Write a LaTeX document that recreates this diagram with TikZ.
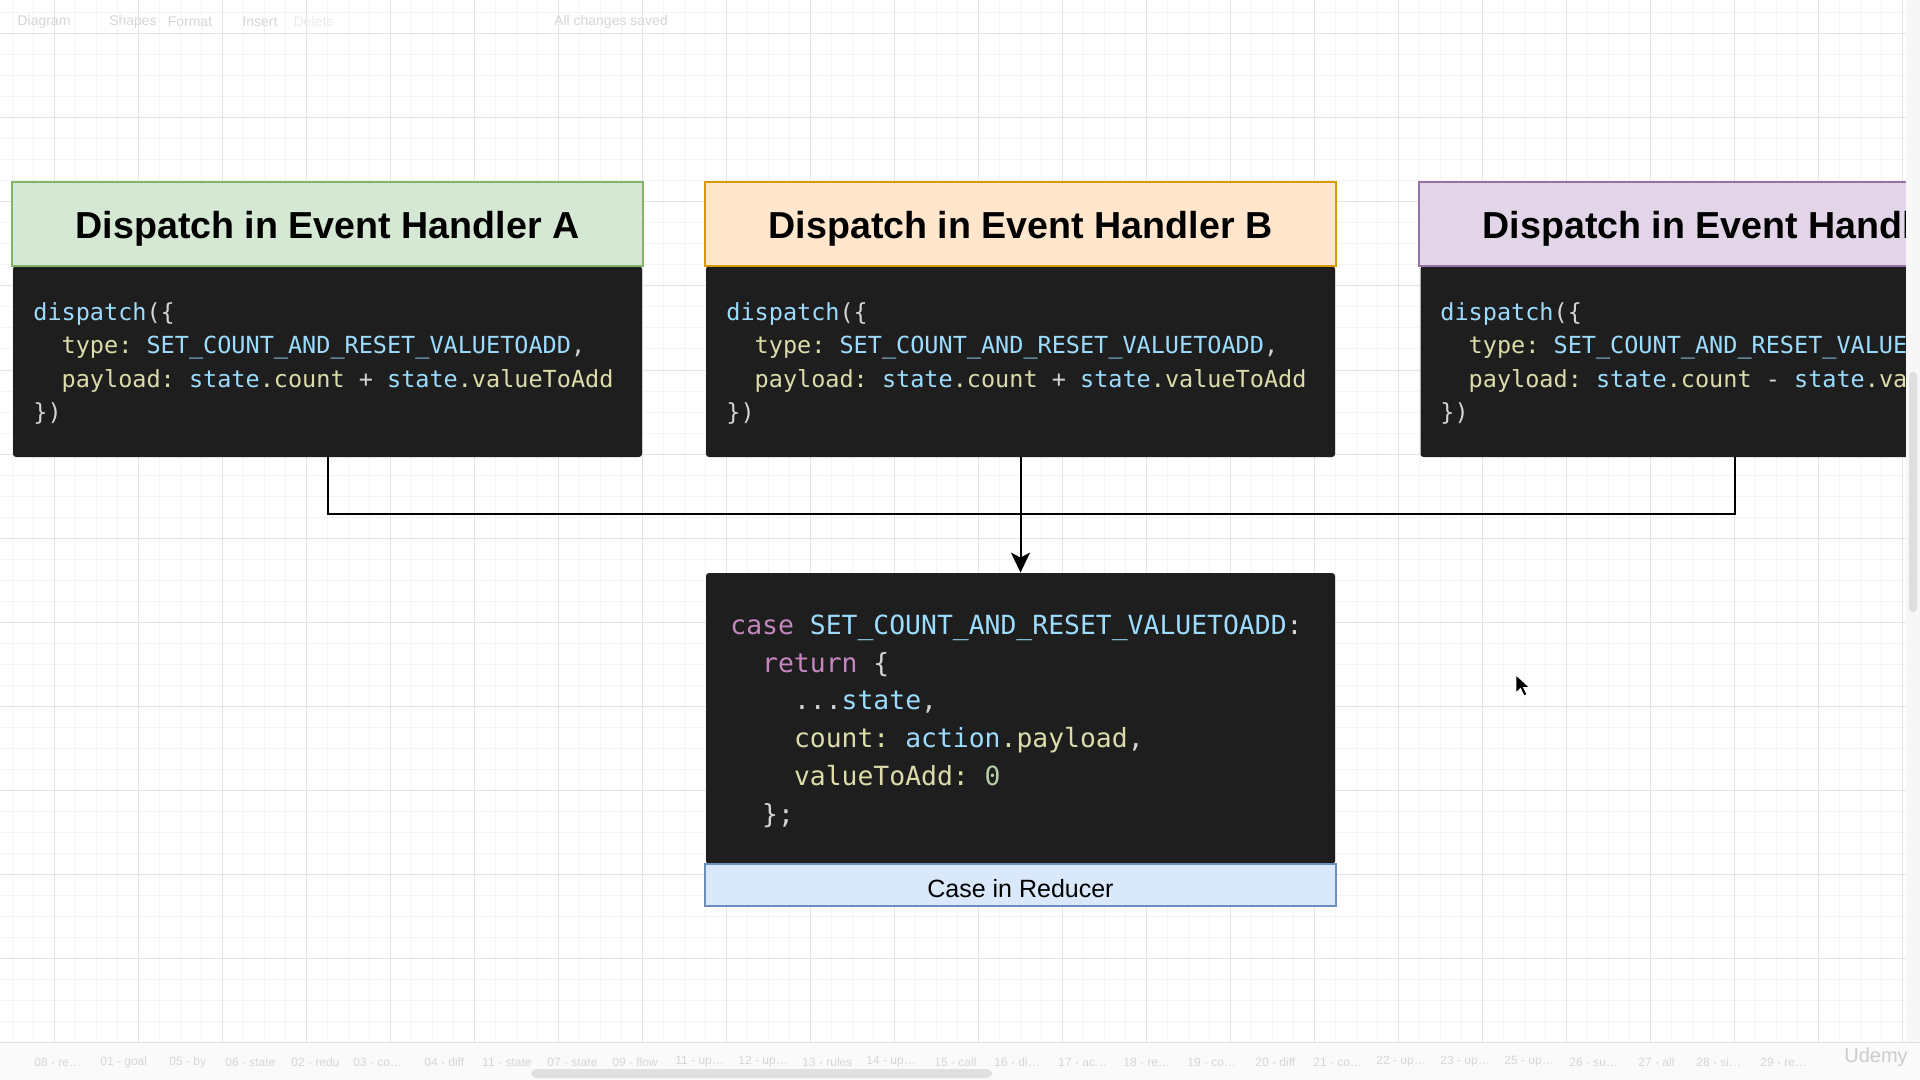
\documentclass[tikz,border=0pt]{standalone}
\usepackage{fontspec}
\usetikzlibrary{arrows.meta}

\newfontfamily\headfont{Liberation Sans}
\newfontfamily\codefont{DejaVu Sans Mono}
\frenchspacing

% Renkler
\definecolor{gridminor}{HTML}{F4F4F4}
\definecolor{gridmajor}{HTML}{E4E4E4}
\definecolor{codebg}{HTML}{1E1E1E}
\definecolor{cplain}{HTML}{D4D4D4}
\definecolor{cvar}{HTML}{9CDCFE}
\definecolor{cprop}{HTML}{DCDCAA}
\definecolor{ckey}{HTML}{C586C0}
\definecolor{cnum}{HTML}{B5CEA8}
\definecolor{greenfill}{HTML}{D5E8D4}
\definecolor{greenline}{HTML}{82B366}
\definecolor{orangefill}{HTML}{FFE6CC}
\definecolor{orangeline}{HTML}{D79B00}
\definecolor{purplefill}{HTML}{E1D5E7}
\definecolor{purpleline}{HTML}{9673A6}
\definecolor{bluefill}{HTML}{DAE8FC}
\definecolor{blueline}{HTML}{6C8EBF}
\definecolor{uitext}{HTML}{D6D6D6}

% Sozdizimi renkleri
\newcommand{\kw}[1]{\textcolor{ckey}{#1}}
\newcommand{\vr}[1]{\textcolor{cvar}{#1}}
\newcommand{\pr}[1]{\textcolor{cprop}{#1}}
\newcommand{\nm}[1]{\textcolor{cnum}{#1}}

\begin{document}
\begin{tikzpicture}[
        x=0.5pt, y=0.5pt,
        % Kutu Stilleri
        head/.style={draw, line width=1pt, minimum width=315.5pt, minimum height=42pt, inner sep=0pt, text height=14.8pt, text depth=0pt, font=\headfont\bfseries\fontsize{18.8}{22}\selectfont},
        codebox/.style={fill=codebg, minimum width=314.5pt, minimum height=95.5pt, inner sep=0pt, rounded corners=1.5pt},
        codeline/.style={anchor=base west, inner sep=0pt, text=cplain, font=\codefont\fontsize{11.75}{14}\selectfont},
        caseline/.style={codeline, font=\codefont\fontsize{13.2}{16}\selectfont},
        uilabel/.style={inner sep=0pt, text=uitext, font=\headfont\fontsize{7}{8}\selectfont},
        link/.style={line width=1pt, black},
        arrow/.style={link, -{Stealth[length=10pt, width=9.5pt, inset=2.5pt]}}
    ]
        \useasboundingbox (0,0) rectangle (1920,-1080);
        \fill[white] (0,0) rectangle (1920,-1080);

        % Izgara
        \foreach \x in {12.3,33.3,...,1920} \draw[gridminor, line width=0.5pt] (\x,0) -- (\x,-1080);
        \foreach \y in {13,34,...,1080} \draw[gridminor, line width=0.5pt] (0,-\y) -- (1920,-\y);
        \foreach \x in {54.3,138.3,...,1920} \draw[gridmajor, line width=0.5pt] (\x,0) -- (\x,-1080);
        \foreach \y in {34,118,...,1080} \draw[gridmajor, line width=0.5pt] (0,-\y) -- (1920,-\y);

        % Arac cubugu
        \node[uilabel] (tbDiagram) at (44,-22) {Diagram};
        \node[uilabel] (tbShapes) at (133,-22) {Shapes};
        \node[uilabel] (tbFormat) at (190,-22) {Format};
        \node[uilabel] (tbInsert) at (260,-22) {Insert};
        \node[uilabel, text=uitext!50] (tbDelete) at (314,-22) {Delete};
        \node[uilabel] (tbSaved) at (611,-22) {All changes saved};

        % Handler A
        \node[codebox] (codeA) at (327.5,-361.5) {};
        \node[head, fill=greenfill, draw=greenline] (headA) at (327.5,-224) {Dispatch in Event Handler A};
        % Handler B
        \node[codebox] (codeB) at (1020.5,-361.5) {};
        \node[head, fill=orangefill, draw=orangeline] (headB) at (1020.5,-224) {Dispatch in Event Handler B};
        % Handler C (ekranin kenarinda kesiliyor)
        \begin{scope}
            \clip (0,0) rectangle (1906,-1080);
            \node[codebox] (codeC) at (1735,-361.5) {};
            \node[head, fill=purplefill, draw=purpleline] (headC) at (1734.5,-224) {Dispatch in Event Handler C};
            \foreach \b/\x/\op in {A/33/+, B/726/+, C/1440/-} {
                \node[codeline] (code\b-1) at (\x,-321) {\vr{dispatch}(\{};
                \node[codeline] (code\b-2) at (\x+28.3,-354) {\pr{type:} \vr{SET\_COUNT\_AND\_RESET\_VALUETOADD},};
                \node[codeline] (code\b-3) at (\x+28.3,-387) {\pr{payload:} \vr{state}\pr{.count} \op{} \vr{state}\pr{.valueToAdd}};
                \node[codeline] (code\b-4) at (\x,-420) {\})};
            }
        \end{scope}

        % Reducer
        \node[codebox, minimum height=145.5pt] (caseCode) at (1020.5,-718.5) {};
        \node[caseline] (case-1) at (730,-634.5) {\kw{case} \vr{SET\_COUNT\_AND\_RESET\_VALUETOADD}:};
        \node[caseline] (case-2) at (761.8,-672.5) {\kw{return} \{};
        \node[caseline] (case-3) at (793.6,-709.5) {...\vr{state},};
        \node[caseline] (case-4) at (793.6,-747.5) {\pr{count:} \vr{action}\pr{.payload},};
        \node[caseline] (case-5) at (793.6,-785.5) {\pr{valueToAdd:} \nm{0}};
        \node[caseline] (case-6) at (761.8,-823.5) {\};};
        \node[draw=blueline, fill=bluefill, line width=1pt, minimum width=315.5pt, minimum height=21pt, inner sep=0pt,
              text height=12pt, text depth=0pt, font=\headfont\fontsize{12.5}{15}\selectfont] (caseLabel) at (1020.5,-885) {Case in Reducer};

        % Baglantilar
        \coordinate (join) at (1020.5,-514);
        \draw[link] (codeA.south) |- (join);
        \draw[link] (codeC.south) |- (join);
        \draw[arrow] (codeB.south) -- (caseCode.north);

        % Sag kenar ve kaydirma cubugu
        \fill[white!97!black] (1906,0) rectangle (1920,-1080);
        \fill[white!87!black, rounded corners=2pt] (1909,-372) rectangle (1917,-612);

        % Fare imleci
        \filldraw[fill=black, draw=white, line width=0.4pt] (1516,-675) -- (1516,-693) -- (1520.5,-688.5) -- (1524,-696) -- (1527,-694.5) -- (1523.5,-687.5) -- (1529.5,-687.5) -- cycle;

        % Alt sekme cubugu
        \fill[white!98!black] (0,-1042) rectangle (1920,-1080);
        \draw[white!88!black, line width=0.5pt] (0,-1042) -- (1920,-1042);
        \fill[white!88!black, rounded corners=3pt] (531,-1069) rectangle (992,-1078);
        \foreach \tx/\tl [count=\i] in {34/08 - re\ldots, 100/01 - goal, 169/05 - by, 225/06 - state, 291/02 - redu, 353/03 - co\ldots,
                424/04 - diff, 482/11 - state, 547/07 - state, 612/09 - flow, 675/11 - up\ldots, 738/12 - up\ldots, 802/13 - rules,
                866/14 - up\ldots, 934/15 - call, 994/16 - di\ldots, 1058/17 - ac\ldots, 1123/18 - re\ldots, 1187/19 - co\ldots,
                1255/20 - diff, 1313/21 - co\ldots, 1376/22 - up\ldots, 1440/23 - up\ldots, 1504/25 - up\ldots, 1569/26 - su\ldots,
                1638/27 - all, 1696/28 - si\ldots, 1760/29 - re\ldots}
            \node[uilabel, anchor=west, font=\headfont\fontsize{6}{7}\selectfont] (tab\i) at (\tx,-1062) {\tl};
        \node[uilabel, text=white!80!black, font=\headfont\fontsize{10}{12}\selectfont] (udemy) at (1876,-1057) {Udemy};

    \end{tikzpicture}
\end{document}
